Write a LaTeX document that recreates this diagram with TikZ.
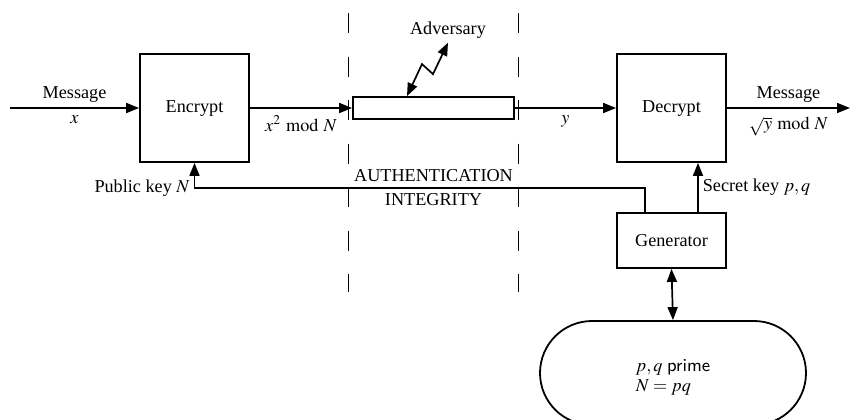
\documentclass[tikz,border=0pt]{standalone}
\usepackage{mathptmx}
\usepackage[no-math]{fontspec}
\setmainfont{Liberation Serif}
\usetikzlibrary{arrows.meta}

\begin{document}
\begin{tikzpicture}[x=0.5pt,y=-0.5pt,
  font=\fontsize{9.1}{12}\selectfont,
  box/.style={draw, line width=0.9pt, minimum width=54.5pt, minimum height=54pt, inner sep=0pt},
  arr/.style={line width=0.85pt, -{Triangle[length=6.5pt,width=5pt]}},
  darr/.style={line width=0.85pt, {Triangle[length=6.5pt,width=5pt]}-{Triangle[length=6.5pt,width=5pt]}},
  zone/.style={line width=0.5pt, dash pattern=on 10pt off 11.75pt},
  lbl/.style={inner sep=0pt, anchor=south, yshift=2.5pt},
  lblb/.style={inner sep=0pt, anchor=north, yshift=-3.5pt},
]
\useasboundingbox (0,0) rectangle (851,419);

% trust-zone boundaries around the channel
\draw[zone] (348,13) -- (348,292);
\draw[zone] (518,13) -- (518,292);

% blocks
\node[box] (enc) at (194.5,108) {Encrypt};
\node[box] (dec) at (671.5,108) {Decrypt};
\node[box, minimum height=27.5pt] (gen) at (671.5,240.5) {Generator};
\node[draw, line width=0.9pt, minimum width=80.5pt, minimum height=11pt, inner sep=0pt] (chan) at (433.5,108) {};
\node[draw, line width=0.9pt, minimum width=133pt, minimum height=52pt, rounded corners=26pt] (pool) at (673,373) {};
\node[align=left, inner sep=0pt] (pooltext) at ([yshift=-2pt]pool.center)
  {$p,q$ \textsf{prime}\\[-2pt]$N=pq$};

% free ends and bends
\coordinate (msgin) at (10,108);
\coordinate (msgout) at (850,108);
\coordinate (pkturn) at (194.5,188);

% message flow
\draw[arr] (msgin) -- node[lbl]{Message} node[lblb]{$x$} (enc.west);
\draw[arr] (enc.east) -- node[lblb]{$x^2 \bmod N$} (chan.west);
\draw[arr] (chan.east) -- node[lblb]{$y$} (dec.west);
\draw[arr] (dec.east) -- node[lbl]{Message} node[lblb, yshift=-0.5pt]{$\sqrt{y}\bmod N$} (msgout);

% keys
\draw[arr] ([xshift=-13.25pt]gen.north) |- (pkturn) node[inner sep=2pt, left]{Public key $N$} -- (enc.south);
\draw[arr] ([xshift=13.25pt]gen.north) -- node[inner sep=2pt, right]{Secret key $p,q$} ([xshift=13.25pt]dec.south);
\draw[darr] (gen.south) -- (pool.north);

% security properties of the channel
\node[align=center] (props) at (chan |- pkturn) {AUTHENTICATION\\INTEGRITY};

% adversary attacking the channel
\node[inner sep=2pt] (adv) at (448,30) {Adversary};
\draw[darr] ([xshift=-13.25pt]chan.north) -- ++(15,-32) -- ++(11,10) -- (adv.south);
\end{tikzpicture}
\end{document}
